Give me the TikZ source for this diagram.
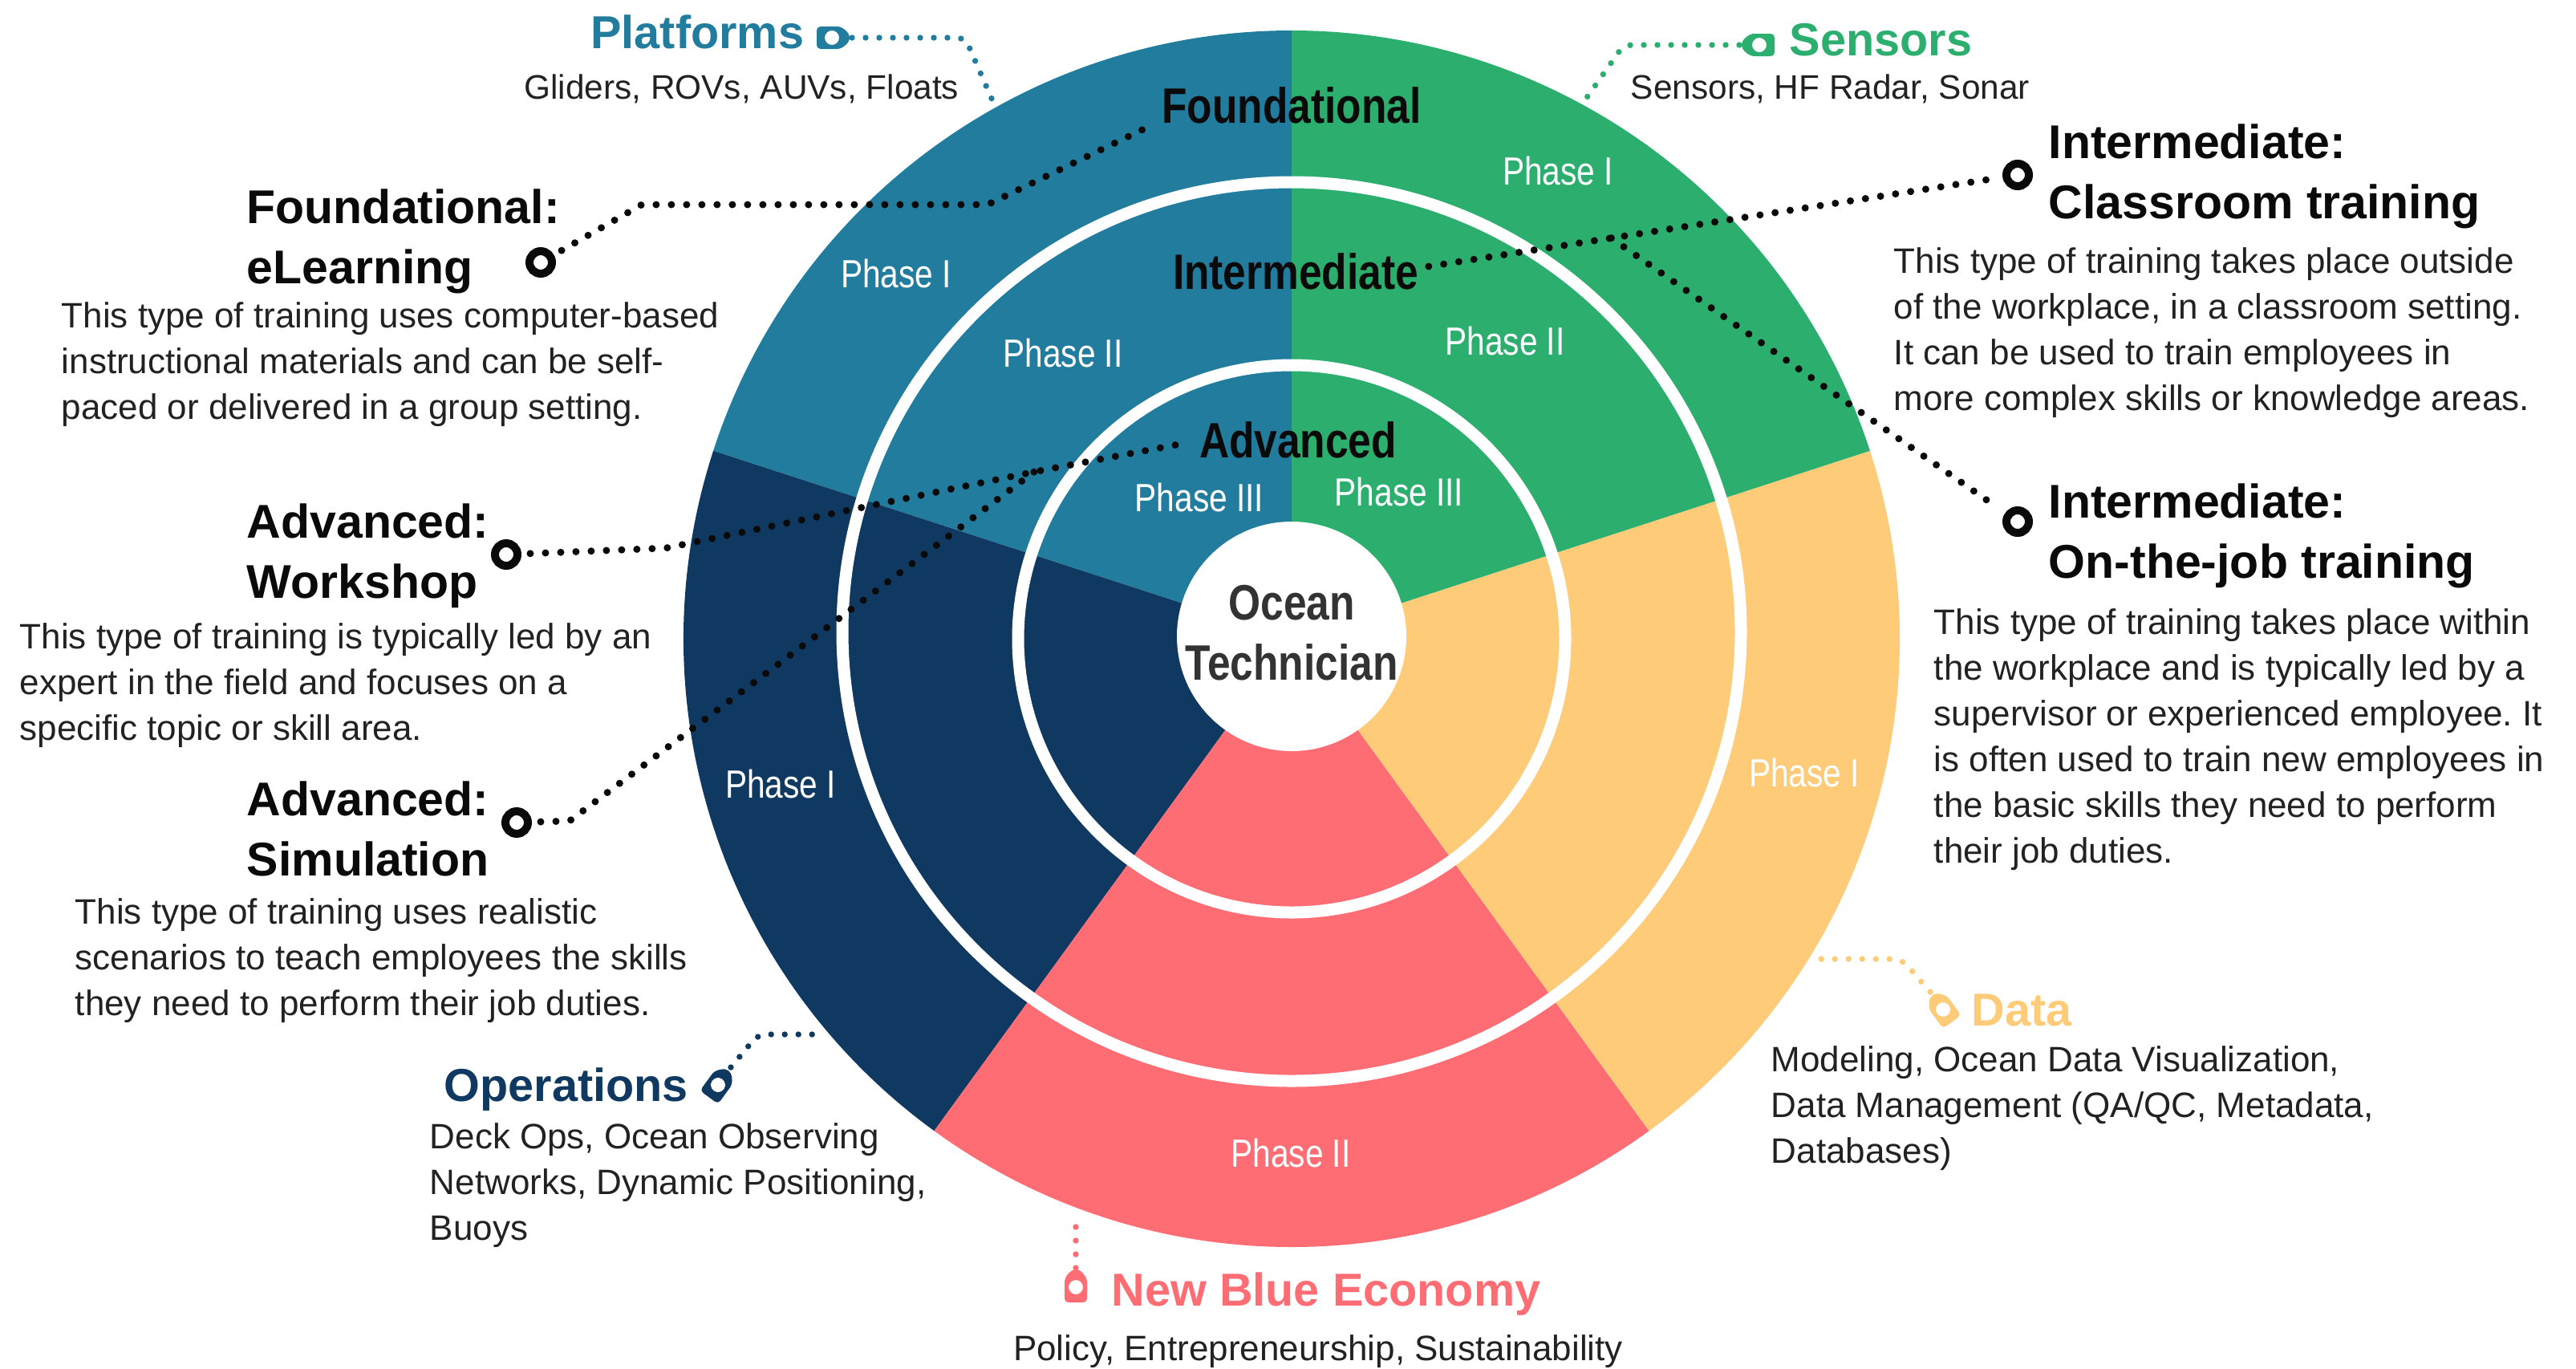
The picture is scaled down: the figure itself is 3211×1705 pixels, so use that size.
\documentclass[tikz,border=0pt]{standalone}
\usepackage{fontspec}
\setmainfont{Liberation Sans}
\newfontfamily\condfont{Liberation Sans}[FakeStretch=0.83]
\usetikzlibrary{calc}
\frenchspacing

\definecolor{cBlue}{HTML}{217C9E}
\definecolor{cGreen}{HTML}{2BAE6E}
\definecolor{cNavy}{HTML}{103962}
\definecolor{cYellow}{HTML}{FECB79}
\definecolor{cPink}{HTML}{FE6C74}
\definecolor{cBody}{HTML}{222222}
\definecolor{cDark}{HTML}{333333}
\definecolor{cHead}{HTML}{0A0A0A}

\newcommand{\fsz}[2]{\fontsize{#1}{#2}\selectfont}
\newcommand{\tblock}[1]{\begin{tabular}[t]{@{}l@{}}#1\end{tabular}}

\tikzset{
  body/.style={font=\fsz{11}{14.25}, text=cBody, inner sep=0pt, anchor=base west},
  subt/.style={font=\fsz{10.6}{14.25}, text=cBody, inner sep=0pt, anchor=base west},
  head/.style={font=\bfseries\fsz{14.75}{18.75}, text=cHead, inner sep=0pt, anchor=base west},
  chartlab/.style={font={\condfont\bfseries\fsz{15.5}{18.75}}, text=cHead, inner sep=0pt, anchor=base},
  phase/.style={font={\condfont\fsz{12.25}{14}}, text=white, inner sep=0pt, anchor=base},
  cattitle/.style={font=\bfseries\fsz{14.4}{18}, inner sep=0pt, anchor=base west},
  ringmk/.style={circle, draw=cHead, line width=2.5pt, minimum size=7pt, inner sep=0pt, outer sep=0pt},
  bdots/.style={draw=cHead, line width=2.25pt, line cap=round, dash pattern=on 0pt off 4.75pt},
  cdots/.style={line width=1.85pt, line cap=round, dash pattern=on 0pt off 4.25pt, rounded corners=2.5pt},
  tagmark/.pic={\fill[#1, even odd rule, rounded corners=1.2pt]
      (-19,-14) -- (11,-14) -- (22,-5) -- (22,5) -- (11,14) -- (-19,14) -- cycle
      (0,0) circle[radius=9];}
}

\begin{document}
\begin{tikzpicture}[x=0.25pt, y=-0.25pt]
\useasboundingbox (0,0) rectangle (3211,1705);

% ---------- wheel ----------
\begin{scope}[shift={(1610,796)}, yscale=-1]
  \fill[cBlue]   (0,0) -- (90:758)  arc[start angle=90,  end angle=162, radius=758] -- cycle;
  \fill[cNavy]   (0,0) -- (162:758) arc[start angle=162, end angle=234, radius=758] -- cycle;
  \fill[cPink]   (0,0) -- (234:758) arc[start angle=234, end angle=306, radius=758] -- cycle;
  \fill[cYellow] (0,0) -- (306:758) arc[start angle=306, end angle=378, radius=758] -- cycle;
  \fill[cGreen]  (0,0) -- (18:758)  arc[start angle=18,  end angle=90,  radius=758] -- cycle;
  \draw[white, line width=3.75pt] (0,0) circle[radius=341];
  \draw[white, line width=3.75pt] (0,9) circle[radius=560];
  \fill[white] (0,3) circle[radius=143];
\end{scope}

% ---------- wheel labels ----------
\node[chartlab] (fnd) at (1610,153) {Foundational};
\node[chartlab] (int) at (1615,360) {Intermediate};
\node[chartlab] (adv) at (1618,570) {Advanced};

\node[phase] (pb1) at (1117,358) {Phase I};
\node[phase] (pb2) at (1325,457) {Phase II};
\node[phase] (pb3) at (1495,637) {Phase III};
\node[phase] (pg1) at (1942,230) {Phase I};
\node[phase] (pg2) at (1876,442) {Phase II};
\node[phase] (pg3) at (1744,630) {Phase III};
\node[phase] (pn1) at (973,994) {Phase I};
\node[phase] (py1) at (2249,980) {Phase I};
\node[phase] (pp2) at (1609,1454) {Phase II};

\node[chartlab, text=cDark] (oc1) at (1610,772) {Ocean};
\node[chartlab, text=cDark] (oc2) at (1610,847) {Technician};

% ---------- category titles ----------
\node[cattitle, text=cBlue, anchor=base east] (plat) at (1003,60) {Platforms};
\node[subt, anchor=base east] (platS) at (1196,123) {Gliders, ROVs, AUVs, Floats};
\pic at (1037,47) {tagmark=cBlue};
\coordinate (platTip) at (1062,47);
\coordinate (plat1) at (1203,47);
\coordinate (plat2) at (1240,132);
\path[cdots, draw=cBlue] (platTip) -- (plat1) -- (plat2);

\node[cattitle, text=cGreen] (sens) at (2230,69) {Sensors};
\node[subt] (sensS) at (2032,123) {Sensors, HF Radar, Sonar};
\pic[rotate=180] at (2193,56) {tagmark=cGreen};
\coordinate (sensTip) at (2168,56);
\coordinate (sens1) at (2024,56);
\coordinate (sens2) at (1972,130);
\path[cdots, draw=cGreen] (sensTip) -- (sens1) -- (sens2);

\node[cattitle, text=cYellow] (data) at (2457,1278) {Data};
\node[body] (dataS) at (2207,1335) {\tblock{Modeling, Ocean Data Visualization,\\Data Management (QA/QC, Metadata,\\Databases)}};
\pic[rotate=126] at (2422,1258) {tagmark=cYellow};
\coordinate (dataTip) at (2406,1236);
\coordinate (data1) at (2370,1195);
\coordinate (data2) at (2255,1195);
\path[cdots, draw=cYellow] (dataTip) -- (data1) -- (data2);

\node[cattitle, text=cNavy] (ops) at (553,1372) {Operations};
\node[body] (opsS) at (535,1431) {\tblock{Deck Ops, Ocean Observing\\Networks, Dynamic Positioning,\\Buoys}};
\pic[rotate=54] at (895,1352) {tagmark=cNavy};
\coordinate (opsTip) at (911,1330);
\coordinate (ops1) at (945,1289);
\coordinate (ops2) at (1025,1289);
\path[cdots, draw=cNavy] (opsTip) -- (ops1) -- (ops2);

\node[cattitle, text=cPink] (nbe) at (1385,1627) {New Blue Economy};
\node[body, anchor=base] (nbeS) at (1643,1695) {Policy, Entrepreneurship, Sustainability};
\pic[rotate=90] at (1341,1604) {tagmark=cPink};
\coordinate (nbeTip) at (1341,1580);
\coordinate (nbe1) at (1341,1528);
\path[cdots, draw=cPink] (nbeTip) -- (nbe1);

% ---------- training types: left ----------
\node[head] (hE) at (307,278) {\tblock{Foundational:\\eLearning}};
\node[body] (bE) at (76,408) {\tblock{This type of training uses computer-based\\instructional materials and can be self-\\paced or delivered in a group setting.}};
\node[ringmk] (mkE) at (674,327) {};

\node[head] (hW) at (307,670) {\tblock{Advanced:\\Workshop}};
\node[body] (bW) at (24,808) {\tblock{This type of training is typically led by an\\expert in the field and focuses on a\\specific topic or skill area.}};
\node[ringmk] (mkW) at (631,691) {};

\node[head] (hS) at (307,1016) {\tblock{Advanced:\\Simulation}};
\node[body] (bS) at (93,1151) {\tblock{This type of training uses realistic\\scenarios to teach employees the skills\\they need to perform their job duties.}};
\node[ringmk] (mkS) at (644,1025) {};

% ---------- training types: right ----------
\node[head] (hC) at (2553,197) {\tblock{Intermediate:\\Classroom training}};
\node[body] (bC) at (2360,340) {\tblock{This type of training takes place outside\\of the workplace, in a classroom setting.\\It can be used to train employees in\\more complex skills or knowledge areas.}};
\node[ringmk] (mkC) at (2515,218) {};

\node[head] (hJ) at (2553,645) {\tblock{Intermediate:\\On-the-job training}};
\node[body] (bJ) at (2410,790) {\tblock{This type of training takes place within\\the workplace and is typically led by a\\supervisor or experienced employee. It\\is often used to train new employees in\\the basic skills they need to perform\\their job duties.}};
\node[ringmk] (mkJ) at (2515,650) {};

% ---------- black dotted connectors ----------
\coordinate (e1) at (800,255);
\coordinate (e2) at (1231,255);
\coordinate (eEnd) at ($(fnd.base west)+(-10,2)$);
\path[bdots, shorten <=4pt] (mkE) -- (e1) -- (e2) -- (eEnd);

\coordinate (w1) at (830,683);
\coordinate (jn) at (1289,588);
\coordinate (aEnd) at ($(adv.base west)+(-16,-18)$);
\path[bdots, shorten <=4pt] (mkW) -- (w1) -- (jn) -- (aEnd);

\coordinate (s1) at (710,1023);
\path[bdots, shorten <=4pt] (mkS) -- (s1) -- (jn);

\coordinate (iStart) at ($(int.base east)+(12,-28)$);
\path[bdots, shorten >=4pt] (iStart) -- (mkC);
\coordinate (br) at ($(iStart)!0.31!(mkC)$);
\path[bdots, shorten >=4pt] (br) -- (mkJ);

\end{tikzpicture}
\end{document}
